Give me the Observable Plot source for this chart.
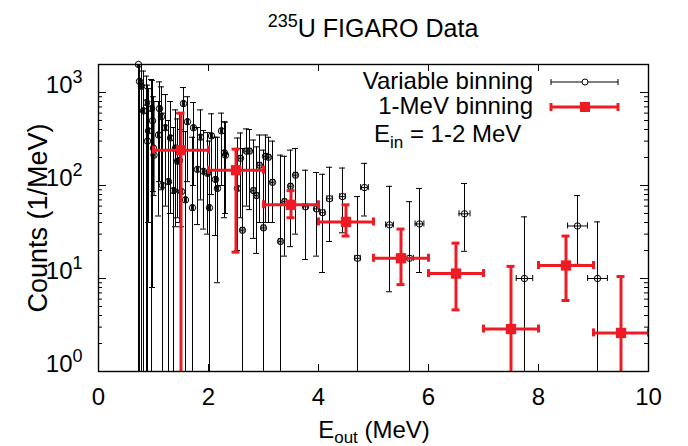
<!DOCTYPE html>
<html><head><meta charset="utf-8">
<script src="https://cdn.jsdelivr.net/npm/d3@7"></script>
<script src="https://cdn.jsdelivr.net/npm/@observablehq/plot@0.6"></script>
<style>body{margin:0;background:#fff} svg{display:block}</style>
</head><body><div id="chart"></div>
<script>
// Variable binning (black)
const vbX = [0.727,0.745,0.782,0.818,0.873,0.891,0.909,0.964,0.982,1.0,1.01,1.091,1.109,1.145,1.164,1.218,1.273,1.309,1.364,1.4,1.436,1.473,1.509,1.545,1.582,1.618,1.709,1.727,1.8,1.855,1.909,1.982,2.018,2.055,2.127,2.164,2.236,2.291,2.309,2.527,2.582,2.618,2.691,2.745,2.818,2.873,2.927,3.0,3.036,3.091,3.164,3.309,3.382,3.491,3.582,3.764,3.964,4.073,4.2,4.436,4.709,4.836,5.291,5.655,5.836,6.655,7.745,8.709,9.073];
const vbY = [2000,1318,1162,634,778,300,386,670,496,252,212,349,670,549,100,417,110,324,88,252,182,186,86,759,70,484,57.6,417,149,330,142,135,57.6,341,116,93,386,224,212,93,196,33,234,234,88,78,165,35,206,201,108,25,67,98,129,59,56,51,72,76,16.5,95,37.7,16.5,38.6,49.6,10,36.7,10];
const vbXerr = [0.02,0.02,0.02,0.02,0.02,0.02,0.02,0.02,0.02,0.02,0.02,0.02,0.02,0.02,0.02,0.02,0.02,0.02,0.02,0.02,0.02,0.02,0.02,0.02,0.02,0.02,0.02,0.02,0.02,0.02,0.02,0.02,0.02,0.02,0.02,0.02,0.02,0.02,0.02,0.02,0.03,0.03,0.03,0.03,0.03,0.03,0.03,0.03,0.03,0.03,0.03,0.03,0.03,0.03,0.03,0.04,0.04,0.04,0.05,0.05,0.05,0.07,0.07,0.07,0.08,0.1,0.15,0.18,0.18];
const vbLo = [0.5,0.5,0.5,0.5,0.5,0.5,40,0.5,8,86,78,47,110,90,0.5,60,0.5,50,0.5,36,45,40,36,250,0.5,110,0.5,100,38,70,34,30,0.5,80,29,9,100,45,50,20,45,0.5,60,55,27,18.6,40,0.5,40,40,40,0.5,17.4,22,30,16,17.4,11.6,25,31,0.5,47,7.2,0.5,11.6,19.6,0.5,14.2,0.5];
const vbHi = [3000,2600,2400,1700,1500,1200,1100,1380,1350,900,800,800,1300,1150,600,950,500,800,420,650,520,600,400,1130,380,900,330,780,420,650,390,370,300,590,330,330,600,484,480,324,367,250,406,400,308,260,349,240,349,330,300,212,206,240,250,146,138,132,157,154,76,173,98,67,93,105,46,78,40.6];

// 1-MeV binning (red)
const mbX = [1.5,2.5,3.5,4.5,5.5,6.5,7.5,8.5,9.5];
const mbY = [240,146,62,40.6,16.5,11.3,2.86,13.8,2.6];
const mbLo = [0.5,19.2,45,28.6,8.6,4.6,0.5,5.8,0.5];
const mbHi = [600,246,88,62,34,24,13.5,28.6,10.5];
const mbXerr = [0.5,0.5,0.5,0.5,0.5,0.5,0.5,0.5,0.5];

const xTicks = [0,2,4,6,8,10];
const yMajor = [1,10,100,1000];
const yMinor = [];
for (const d of yMajor) for (let k = 2; k <= 9; k++) if (d * k <= 2000) yMinor.push(d * k);

const red = "#ed1c24";
const vb = vbX.map((x, i) => ({x, y: vbY[i], xe: vbXerr[i], lo: vbLo[i], hi: vbHi[i]}));
const mb = mbX.map((x, i) => ({x, y: mbY[i], xe: mbXerr[i], lo: mbLo[i], hi: mbHi[i]}));

const W = 688, H = 446, mL = 98, mR = 40, mT = 64, mB = 75;
const fw = W - mL - mR, fh = H - mT - mB;
const FONT = "'Liberation Sans', Arial, Helvetica, sans-serif";

const chart = Plot.plot({
  width: W, height: H,
  marginLeft: mL, marginRight: mR, marginTop: mT, marginBottom: mB,
  style: {fontFamily: FONT, fontSize: "24px", color: "black", background: "white", overflow: "visible"},
  x: {domain: [0, 10]},
  y: {type: "log", domain: [1, 2000]},
  marks: [
    // black variable binning
    Plot.ruleX(vb, {x: "x", y1: "lo", y2: "hi", stroke: "black", strokeWidth: 1, clip: true}),
    Plot.ruleY(vb, {y: "hi", x1: "x", x2: "x", insetLeft: -3, insetRight: -3, stroke: "black", clip: true}),
    Plot.ruleY(vb, {y: "lo", x1: "x", x2: "x", insetLeft: -3, insetRight: -3, stroke: "black", clip: true}),
    Plot.ruleY(vb, {y: "y", x1: d => d.x - d.xe, x2: d => d.x + d.xe, stroke: "black", clip: true}),
    Plot.ruleX(vb, {x: d => d.x - d.xe, y1: "y", y2: "y", insetTop: -3, insetBottom: -3, stroke: "black", clip: true}),
    Plot.ruleX(vb, {x: d => d.x + d.xe, y1: "y", y2: "y", insetTop: -3, insetBottom: -3, stroke: "black", clip: true}),
    Plot.dot(vb, {x: "x", y: "y", r: 3.2, stroke: "black", strokeWidth: 1, fill: "none"}),
    // red 1-MeV binning
    Plot.ruleX(mb, {x: "x", y1: "lo", y2: "hi", stroke: red, strokeWidth: 3, clip: true}),
    Plot.ruleY(mb, {y: "hi", x1: "x", x2: "x", insetLeft: -4, insetRight: -4, stroke: red, strokeWidth: 3, clip: true}),
    Plot.ruleY(mb, {y: "lo", x1: "x", x2: "x", insetLeft: -4, insetRight: -4, stroke: red, strokeWidth: 3, clip: true}),
    Plot.ruleY(mb, {y: "y", x1: d => d.x - d.xe, x2: d => d.x + d.xe, stroke: red, strokeWidth: 3, clip: true}),
    Plot.ruleX(mb, {x: d => d.x - d.xe, y1: "y", y2: "y", insetTop: -4, insetBottom: -4, stroke: red, strokeWidth: 3, clip: true}),
    Plot.ruleX(mb, {x: d => d.x + d.xe, y1: "y", y2: "y", insetTop: -4, insetBottom: -4, stroke: red, strokeWidth: 3, clip: true}),
    Plot.dot(mb, {x: "x", y: "y", symbol: "square", r: 5.8, fill: red, stroke: "none"}),
    // ticks (inward, all sides)
    Plot.ruleX(xTicks, {x: d => d, insetTop: fh - 7, stroke: "black"}),
    Plot.ruleX(xTicks, {x: d => d, insetBottom: fh - 7, stroke: "black"}),
    Plot.ruleY(yMajor, {y: d => d, insetRight: fw - 8, stroke: "black"}),
    Plot.ruleY(yMajor, {y: d => d, insetLeft: fw - 8, stroke: "black"}),
    Plot.ruleY(yMinor, {y: d => d, insetRight: fw - 4, stroke: "black"}),
    Plot.ruleY(yMinor, {y: d => d, insetLeft: fw - 4, stroke: "black"}),
    Plot.axisX({ticks: xTicks, tickSize: 0, tickPadding: 16, label: null, fontSize: 24}),
    Plot.axisY({ticks: yMajor, tickSize: 0, tickPadding: 16, label: null, fontSize: 24, dy: -7,
      tickFormat: d => "10^" + Math.round(Math.log10(d))}),
    Plot.frame({stroke: "black", strokeWidth: 1.4})
  ]
});

document.getElementById("chart").append(chart);
const svg = d3.select(chart);

// superscripts on tick labels
svg.selectAll("text").each(function () {
  const t = this.textContent;
  if (t.includes("^")) {
    const [b, e] = t.split("^");
    const s = d3.select(this);
    s.text(b);
    s.append("tspan").attr("dy", -10).attr("font-size", 18).text(e);
  }
});

// title
const title = svg.append("text").attr("x", 373).attr("y", 37).attr("text-anchor", "middle")
  .attr("font-family", FONT).attr("font-size", 25).attr("fill", "black");
title.append("tspan").attr("font-size", 18).attr("dy", -10).text("235");
title.append("tspan").attr("dy", 10).text("U FIGARO Data");

// x label
const xl = svg.append("text").attr("x", 374).attr("y", 438).attr("text-anchor", "middle")
  .attr("font-family", FONT).attr("font-size", 24).attr("fill", "black");
xl.append("tspan").text("E");
xl.append("tspan").attr("font-size", 17).attr("dy", 5).text("out");
xl.append("tspan").attr("dy", -5).text(" (MeV)");

// y label
svg.append("text").attr("transform", "translate(47,218) rotate(-90)").attr("text-anchor", "middle")
  .attr("font-family", FONT).attr("font-size", 27).attr("fill", "black").text("Counts (1/MeV)");

// legend
const lg = svg.append("g").attr("font-family", FONT).attr("font-size", 24).attr("fill", "black");
lg.append("text").attr("x", 533).attr("y", 89).attr("text-anchor", "end").text("Variable binning");
lg.append("line").attr("x1", 551).attr("x2", 618).attr("y1", 82).attr("y2", 82).attr("stroke", "black");
lg.append("line").attr("x1", 551).attr("x2", 551).attr("y1", 79).attr("y2", 85).attr("stroke", "black");
lg.append("line").attr("x1", 618).attr("x2", 618).attr("y1", 79).attr("y2", 85).attr("stroke", "black");
lg.append("circle").attr("cx", 585).attr("cy", 82).attr("r", 3).attr("fill", "white").attr("stroke", "black");
lg.append("text").attr("x", 533).attr("y", 114).attr("text-anchor", "end").text("1-MeV binning");
lg.append("line").attr("x1", 551).attr("x2", 618).attr("y1", 107).attr("y2", 107).attr("stroke", red).attr("stroke-width", 3);
lg.append("line").attr("x1", 551).attr("x2", 551).attr("y1", 103).attr("y2", 111).attr("stroke", red).attr("stroke-width", 3);
lg.append("line").attr("x1", 618).attr("x2", 618).attr("y1", 103).attr("y2", 111).attr("stroke", red).attr("stroke-width", 3);
lg.append("rect").attr("x", 580).attr("y", 102).attr("width", 10).attr("height", 10).attr("fill", red);
const ein = lg.append("text").attr("x", 374).attr("y", 142).attr("text-anchor", "start");
ein.append("tspan").text("E");
ein.append("tspan").attr("font-size", 17).attr("dy", 6).text("in");
ein.append("tspan").attr("dy", -6).text(" = 1-2 MeV");
</script>
</body></html>
